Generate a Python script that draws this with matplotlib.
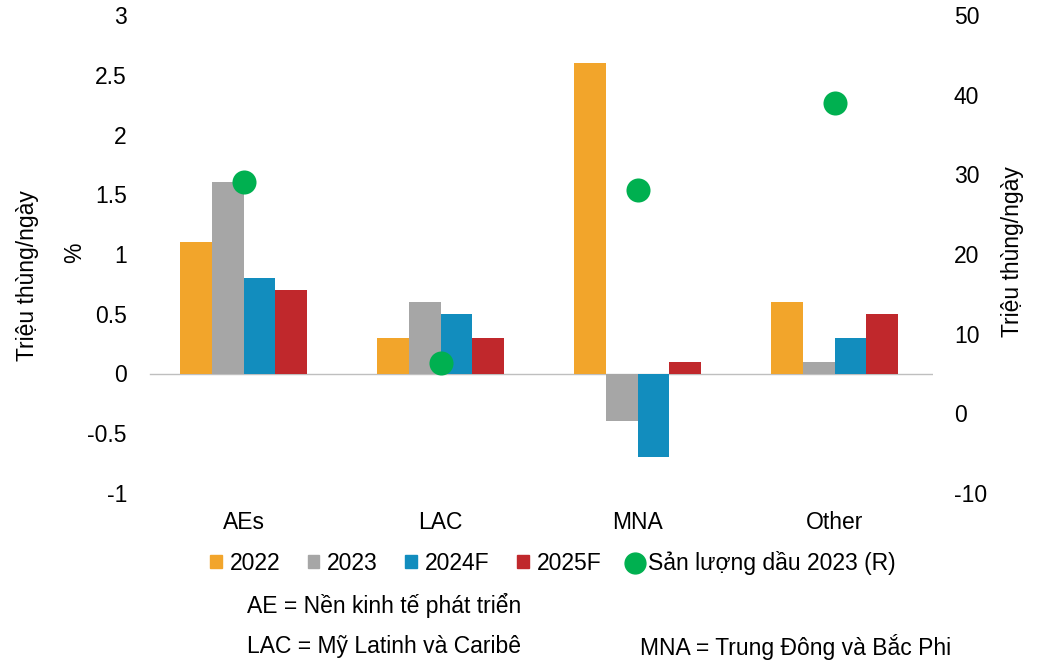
import matplotlib
matplotlib.use("Agg")
import matplotlib.pyplot as plt
from matplotlib.lines import Line2D
from matplotlib.patches import Patch
import numpy as np

plt.rcParams['font.family'] = ['Liberation Sans', 'DejaVu Sans']

categories = ["AEs", "LAC", "MNA", "Other"]
series_names = ["2022", "2023", "2024F", "2025F"]
growth = {
    "2022": [1.1, 0.3, 2.6, 0.6],
    "2023": [1.6, 0.6, -0.4, 0.1],
    "2024F": [0.8, 0.5, -0.7, 0.3],
    "2025F": [0.7, 0.3, 0.1, 0.5],
}
oil_output_2023 = [29, 6.3, 28, 39]
dot_label = "Sản lượng dầu 2023 (R)"
colors = ["#F2A52B", "#A6A6A6", "#128DBE", "#C0282C"]
dot_color = "#00B050"

left_ticks = [-1, -0.5, 0, 0.5, 1, 1.5, 2, 2.5, 3]
left_tick_labels = ["-1", "-0.5", "0", "0.5", "1", "1.5", "2", "2.5", "3"]
right_ticks = [-10, 0, 10, 20, 30, 40, 50]
right_tick_labels = ["-10", "0", "10", "20", "30", "40", "50"]

FS = 16.5

fig = plt.figure(figsize=(10.37, 6.61), dpi=100)
ax = fig.add_axes([145/1037, 1-493/661, 788/1037, (493-15)/661])
ax2 = ax.twinx()

x = np.arange(len(categories))
width = 0.162
for i, name in enumerate(series_names):
    ax.bar(x + (i - 1.5) * width, growth[name], width, color=colors[i], label=name, zorder=2)

ax.axhline(0, xmin=5/788, color="#BFBFBF", lw=1, zorder=1)
ax.set_xlim(-0.5, len(categories) - 0.5)
ax.set_ylim(-1, 3)
ax.set_yticks(left_ticks)
ax.set_yticklabels(left_tick_labels)
ax.set_xticks(x)
ax.set_xticklabels(categories)

ax2.scatter(x, oil_output_2023, s=300, color=dot_color, zorder=3, label=dot_label, linewidths=0)
ax2.set_ylim(-10, 50)
ax2.set_yticks(right_ticks)
ax2.set_yticklabels(right_tick_labels)

for a in (ax, ax2):
    for s in a.spines.values():
        s.set_visible(False)
    a.tick_params(length=0, labelsize=FS, colors="black")
ax.tick_params(axis="y", pad=13)
ax.tick_params(axis="x", pad=13)
ax2.tick_params(axis="y", pad=15)

fig.text(75/1037, 1-253/661, "%", rotation=90, ha="center", va="center", fontsize=FS)
fig.text(28/1037, 1-276/661, "Triệu thùng/ngày", rotation=90, ha="center", va="center", fontsize=FS)
fig.text(1012/1037, 1-252/661, "Triệu thùng/ngày", rotation=90, ha="center", va="center", fontsize=FS)

handles = [Patch(color=c, label=n) for c, n in zip(colors, series_names)]
handles.append(Line2D([], [], marker="o", color=dot_color, linestyle="", markersize=15, label=dot_label))
fig.legend(handles=handles, loc="center", bbox_to_anchor=(553/1037, 1-563/661), ncol=5,
           frameon=False, fontsize=FS, handlelength=0.5, handleheight=0.5,
           handletextpad=0.35, columnspacing=1.2)

fig.text(247/1037, 1-605/661, "AE = Nền kinh tế phát triển", ha="left", va="center", fontsize=FS)
fig.text(247/1037, 1-647/661, "LAC = Mỹ Latinh và Caribê", ha="left", va="center", fontsize=FS)
fig.text(640/1037, 1-647/661, "MNA = Trung Đông và Bắc Phi", ha="left", va="center", fontsize=FS)

fig.savefig("out.png", dpi=100)
